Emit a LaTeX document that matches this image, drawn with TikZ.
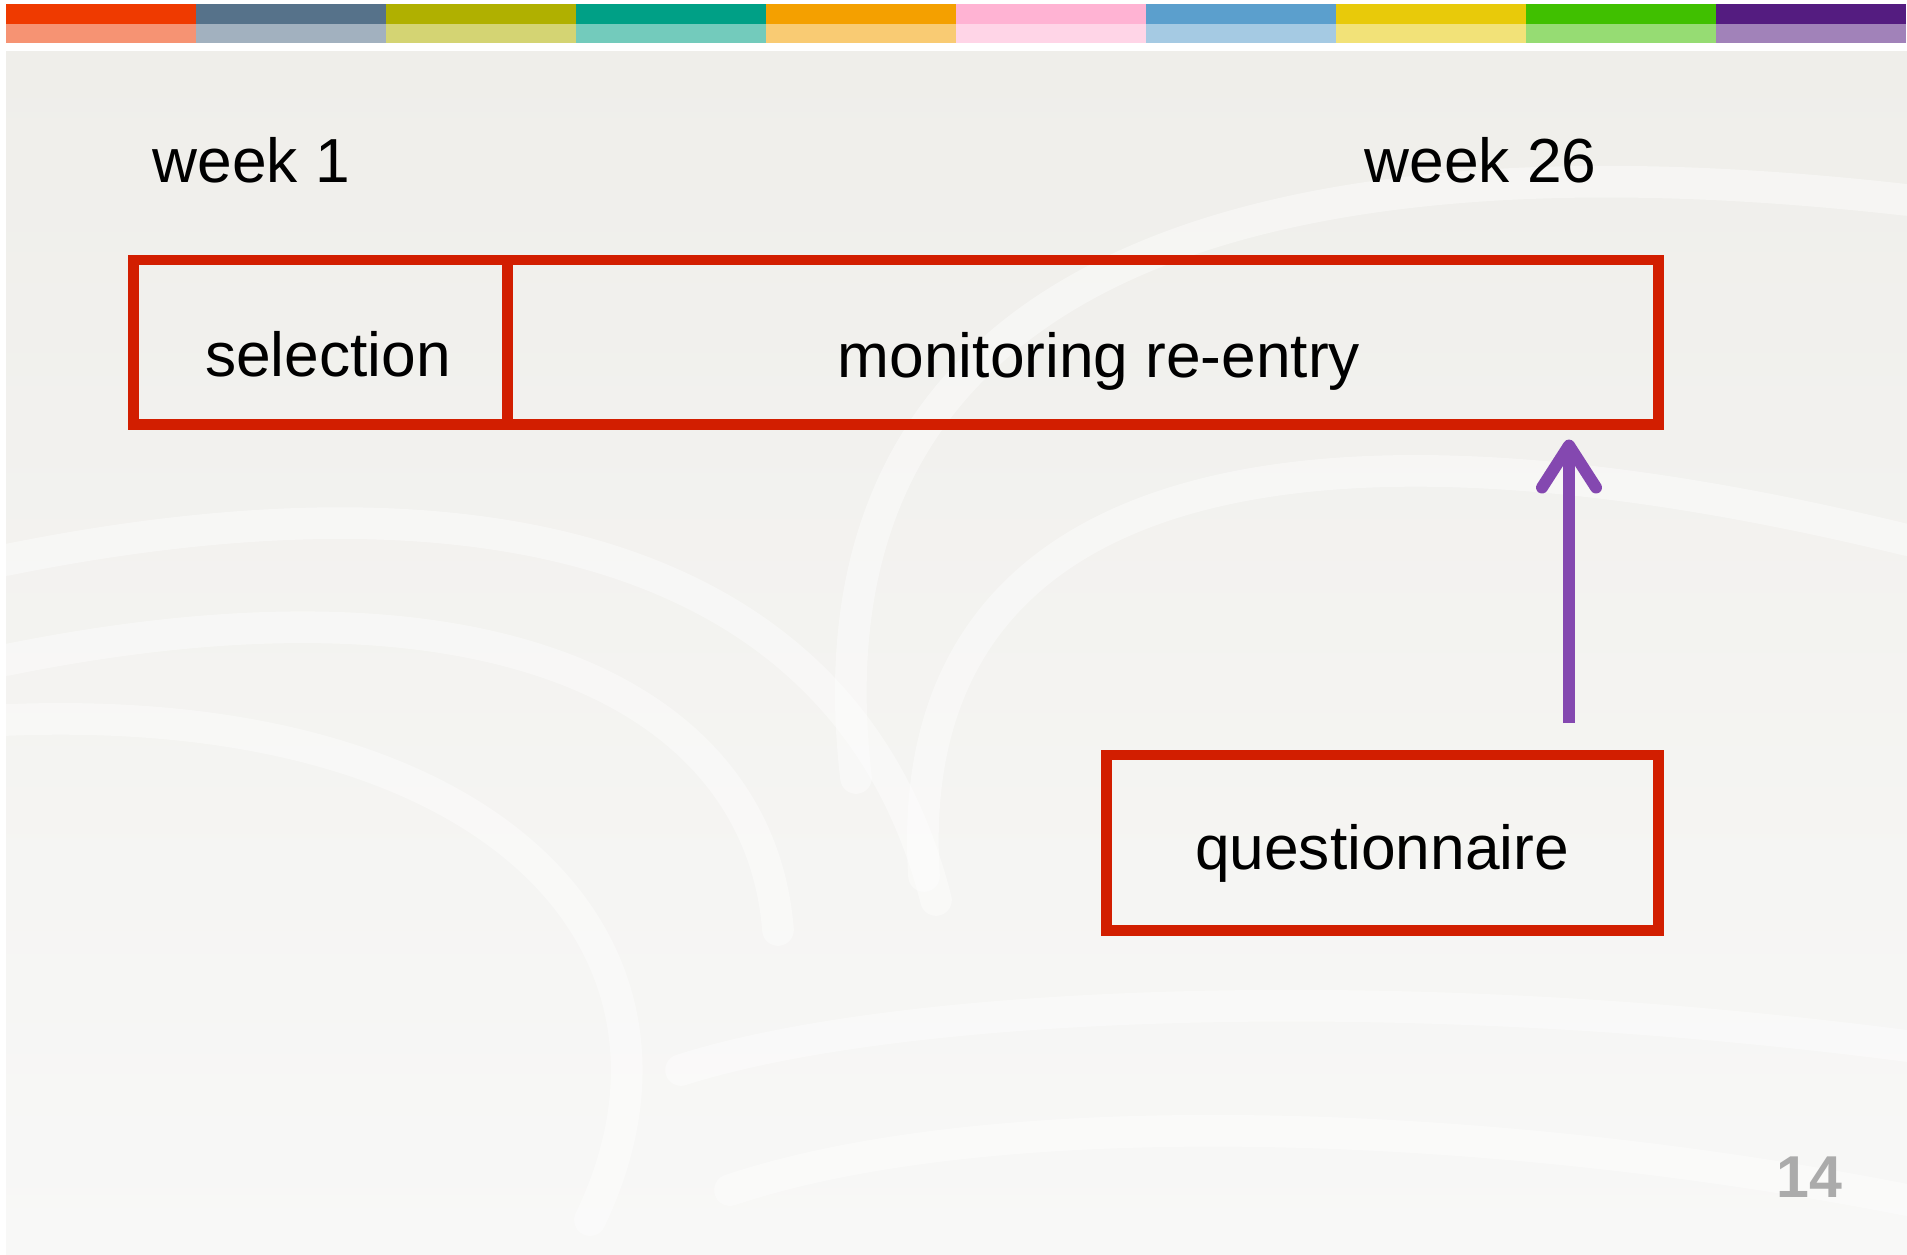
\documentclass[tikz,border=0pt]{standalone}
\usepackage{fontspec}
\setmainfont{Liberation Sans}
\usetikzlibrary{arrows.meta}
\definecolor{boxred}{HTML}{D21E00}
\definecolor{arrowpurple}{HTML}{8448B0}
\definecolor{slidegrey}{HTML}{EFEEEA}
\definecolor{slidelight}{HTML}{F8F8F7}
\definecolor{pagegrey}{HTML}{ABABAB}
% colours of the strip at the top
\definecolor{barA}{HTML}{EF3A00}
\definecolor{barB}{HTML}{56728A}
\definecolor{barC}{HTML}{B0B000}
\definecolor{barD}{HTML}{00A086}
\definecolor{barE}{HTML}{F4A000}
\definecolor{barF}{HTML}{FFB3D3}
\definecolor{barG}{HTML}{5B9FCD}
\definecolor{barH}{HTML}{E8CA0A}
\definecolor{barI}{HTML}{40C000}
\definecolor{barJ}{HTML}{541C80}
\begin{document}
\begin{tikzpicture}[x=0.01cm, y=-0.01cm,
    redbox/.style={draw=boxred, line width=3.1pt, inner sep=0pt},
    txt/.style={font=\fontsize{17.7}{20}\selectfont, anchor=base, inner sep=0pt},
    page/.style={white, line width=9pt, opacity=0.4, line cap=round},
    arr/.style={draw=arrowpurple, line width=3.4pt, -{Straight Barb[length=0.42cm, width=0.54cm, round]}}]
                \fill[white] (0,0) rectangle (1907,1254);
                \useasboundingbox (0,0) rectangle (1907,1254);
                % slide background
                \shade[top color=slidegrey, bottom color=slidelight] (6,51) rectangle (1907,1254);
                \draw[page] (856,778) .. controls (800,300) and (1200,120) .. (1907,200);
                \draw[page] (924,876) .. controls (900,500) and (1250,380) .. (1907,540);
                \draw[page] (6,560) .. controls (500,460) and (850,560) .. (936,900);
                \draw[page] (6,660) .. controls (500,560) and (760,700) .. (778,930);
                \draw[page] (6,720) .. controls (500,700) and (720,950) .. (590,1220);
                \draw[page] (681,1070) .. controls (900,1000) and (1400,980) .. (1907,1046);
                \draw[page] (730,1190) .. controls (1000,1100) and (1500,1120) .. (1907,1200);
                % colour strip
                \foreach \c [count=\i from 0] in {barA,barB,barC,barD,barE,barF,barG,barH,barI,barJ} {
                    \fill[\c] (6+190*\i,4) rectangle ++(190,20);
                    \fill[\c!55] (6+190*\i,24) rectangle ++(190,19);
                }
                \draw (152,182) node[txt, anchor=base west] (wk1) {week 1};
                \draw (1364,182) node[txt, anchor=base west] (wk26) {week 26};
                \node[redbox, minimum width=3.735cm, minimum height=1.64cm] (sel) at (320.75,342) {};
                \node[redbox, minimum width=11.505cm, minimum height=1.64cm] (mon) at (1082.75,342) {};
                \node[redbox, minimum width=5.51cm, minimum height=1.75cm] (qbox) at (1382.5,842.5) {};
                \draw (328,376) node[txt] (seltxt) {selection};
                \draw (1099,377) node[txt] (montxt) {monitoring re-entry};
                \draw (1382,869) node[txt] (qtxt) {questionnaire};
                \coordinate (ax) at (1569,0);
                \draw[arr, shorten <=0.265cm, shorten >=0.1cm] (qbox.north -| ax) -- (mon.south -| ax);
                \draw (1809,1197) node[anchor=base, font=\fontsize{16.8}{18}\selectfont\bfseries, text=pagegrey] (pnum) {14};
\end{tikzpicture}
\end{document}
